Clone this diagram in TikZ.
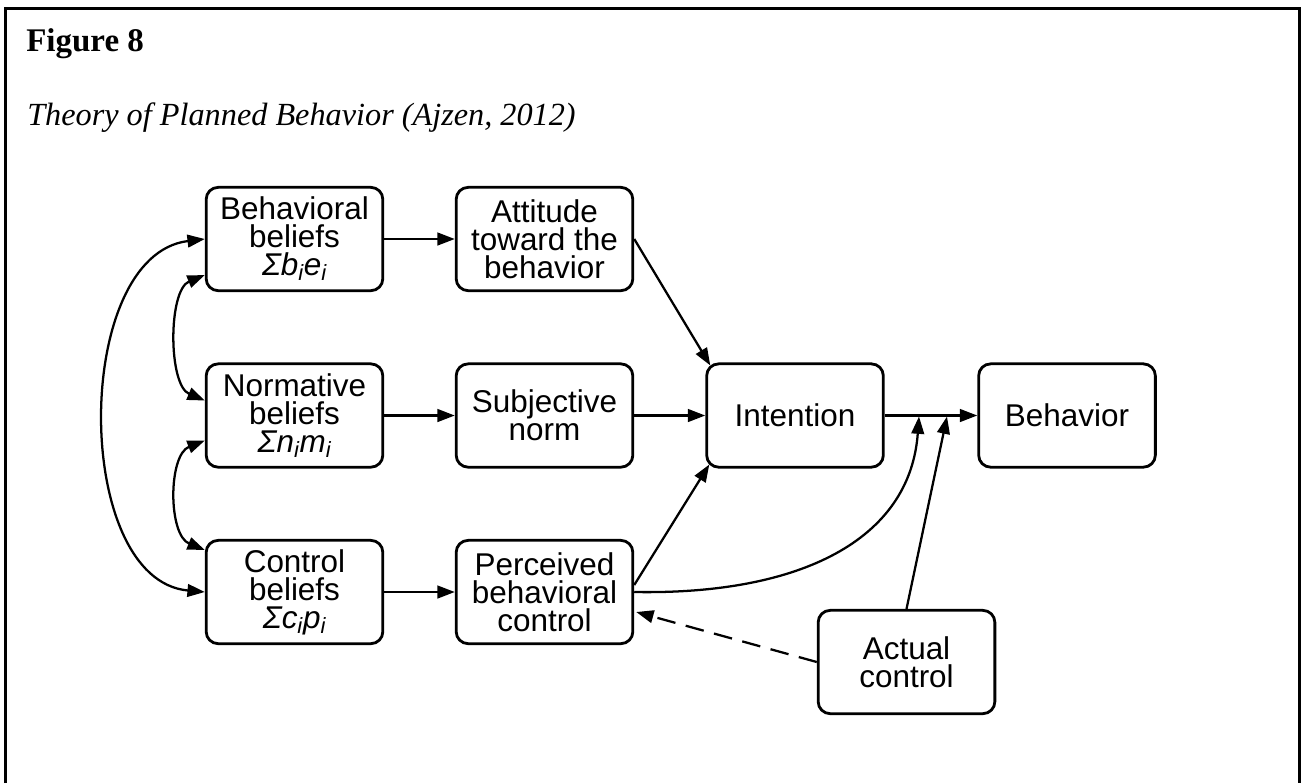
\documentclass[tikz,border=0pt]{standalone}
\usepackage{fontspec}
\setmainfont{Liberation Serif}
\setsansfont{Liberation Sans}
\usetikzlibrary{arrows.meta,calc}
\newcommand{\sbx}[1]{\textsubscript{#1}}
\begin{document}
\begin{tikzpicture}[x=0.75pt,y=-0.75pt,
  box/.style={draw, line width=2.1pt, rounded corners=9pt,
    minimum width=132.5pt, minimum height=77.5pt, inner sep=0pt,
    align=center, font=\sffamily\fontsize{23.6}{21}\selectfont},
  tip/.tip={Triangle[length=13pt,width=9.5pt]},
  link/.style={line width=1.7pt, -tip},
  both/.style={line width=1.7pt, tip-tip},
  caption/.style={anchor=base west, inner sep=0pt},
]
\useasboundingbox (0,0) rectangle (1301,783);
% frame
\draw[line width=2.7pt] (5.3,783) -- (5.3,8.5) -- (1299.3,8.5) -- (1299.3,783);

% captions
\node[caption, font=\bfseries\fontsize{24.75}{28}\selectfont] (fig) at (26,51) {Figure 8};
\node[caption, font=\itshape\fontsize{24.2}{28}\selectfont] (ttl) at (27,125) {Theory of Planned Behavior (Ajzen, 2012)};

% boxes
\node[box] (bb) at (294.5,239) {Behavioral\\beliefs\\\textit{Σb\sbx{i}e\sbx{i}}};
\node[box] (att) at (544.5,239) {Attitude\\toward the\\behavior};
\node[box] (nb) at (294.5,415.5) {Normative\\beliefs\\\textit{Σn\sbx{i}m\sbx{i}}};
\node[box] (sn) at (544.5,415.5) {Subjective\\norm};
\node[box] (cb) at (294.5,592) {Control\\beliefs\\\textit{Σc\sbx{i}p\sbx{i}}};
\node[box] (pbc) at (544.5,592) {Perceived\\behavioral\\control};
\node[box] (int) at (795,415.5) {Intention};
\node[box] (beh) at (1067,415.5) {Behavior};
\node[box] (ac) at (906.5,662) {Actual\\control};

% junction points on the intention-behavior link
\coordinate (j1) at (919,416.5);
\coordinate (j2) at (947,416.5);

% straight links
\draw[link] (bb) -- (att);
\draw[link] (nb) -- (sn);
\draw[link] (cb) -- (pbc);
\draw[link] (sn) -- (int);
\draw[link] (int) -- (beh);
\draw[link] (att.east) -- ($(int.north west)+(5,3)$);
\draw[link] ($(pbc.east)+(0,-7)$) -- ($(int.south west)+(4,-4)$);
\draw[link] (pbc.east) .. controls (800,595) and (910,540) .. (j1);
\draw[link] (ac.north) -- (j2);
\draw[link, dashed, dash pattern=on 14pt off 8pt] (ac.west) -- ($(pbc.east)+(2,20)$);

% correlations among beliefs
\draw[both] (bb.west) .. controls (72,255) and (72,580) .. (cb.west);
\draw[both] ($(bb.south west)+(0,-17)$) .. controls (168,290) and (168,385) .. ($(nb.west)+(0,-15)$);
\draw[both] ($(nb.south west)+(0,-28)$) .. controls (168,455) and (168,535) .. ($(cb.north west)+(0,11)$);
\end{tikzpicture}
\end{document}
